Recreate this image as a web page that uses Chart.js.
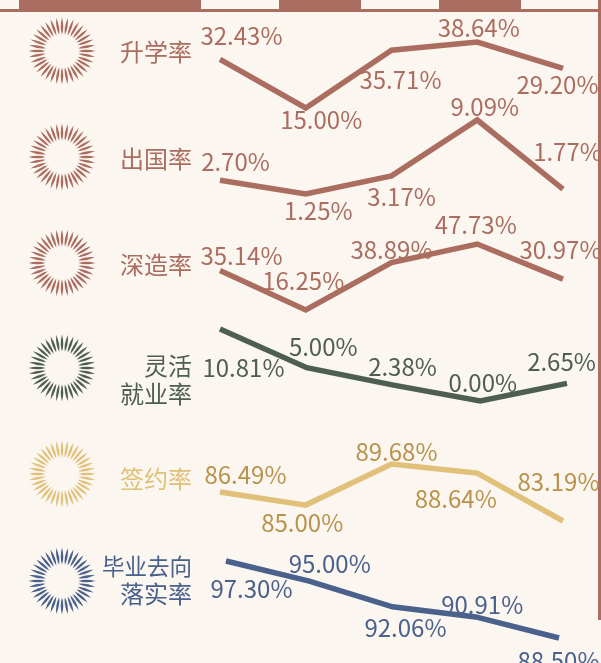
<!DOCTYPE html>
<html lang="zh">
<head>
  <meta charset="UTF-8" />
  <title>毕业去向</title>
  <script src="https://cdn.jsdelivr.net/npm/chart.js"></script>
  <style>
    html, body {
      margin: 0;
      width: 601px;
      height: 663px;
      overflow: hidden;
      background: #fbf6f0;
      font-family: "Noto Sans CJK SC", sans-serif;
    }
    canvas {
      position: absolute;
      left: 0;
      top: 0;
    }
    .frame {
      position: absolute;
      background: #ab6d60;
    }
    .name {
      position: absolute;
      right: 409px;
      font-size: 24px;
      line-height: 28px;
      text-align: right;
      white-space: nowrap;
    }
    .name span {
      font-size: 22.5px;
    }
  </style>
</head>
<body>
  <!-- bottom of the bars cut off above, and the frame line -->
  <div class="frame" style="left:19px;top:0;width:182px;height:10px"></div>
  <div class="frame" style="left:279px;top:0;width:82px;height:10px"></div>
  <div class="frame" style="left:439px;top:0;width:82px;height:10px"></div>
  <div class="frame" style="left:0;top:9px;width:601px;height:3px"></div>
  <div class="frame" style="left:598px;top:0;width:3px;height:620px"></div>

  <script>
    const xLabels = ['1', '2', '3', '4', '5'];

    const names = ['升学率', '出国率', '深造率', '灵活<br>就业率', '签约率', '<span>毕业去向</span><br>落实率'];

    const shengxue = [32.43, 15.00, 35.71, 38.64, 29.20];
    const chuguo = [2.70, 1.25, 3.17, 9.09, 1.77];
    const shenzao = [35.14, 16.25, 38.89, 47.73, 30.97];
    const linghuo = [10.81, 5.00, 2.38, 0.00, 2.65];
    const qianyue = [86.49, 85.00, 89.68, 88.64, 83.19];
    const biye = [97.30, 95.00, 92.06, 90.91, 88.50];

    const series = [shengxue, chuguo, shenzao, linghuo, qianyue, biye];

    const lineColors = ['#ab6d60', '#ab6d60', '#ab6d60', '#4e5f50', '#e1c079', '#4a618b'];
    const labelColors = ['#ab6d60', '#ab6d60', '#ab6d60', '#4e5f50', '#b9924c', '#4a618b'];

    // where each little chart sits on the page: left, right, top, bottom of the plot
    const boxes = [
      [220, 563, 42, 108],
      [220, 563, 120, 194],
      [220, 563, 244, 310],
      [220, 567, 329, 401],
      [220, 563, 464, 521],
      [226, 559, 561, 638]
    ];
    const nameTops = [37, 144, 250, 351, 464, 551];
    const burstY = [51, 157, 263, 368, 474, 581];

    // value labels are hand placed around the points in the original
    const labelOffsets = [
      [[21.5, -23], [15.5, 12], [9, 30], [1.5, -14], [-5.5, 17]],
      [[15.5, -18], [12.5, 17], [10, 21], [7.5, -13], [4.5, -37]],
      [[21.5, -15], [-2.5, -29], [0, -13], [-1.5, -19], [-2.5, -29]],
      [[23.5, 39], [16.5, -21], [9, -18], [2.5, -18], [-5.5, -21]],
      [[25.5, -17], [-3.5, 18], [5, -12], [-21.5, 26], [-4.5, -39]],
      [[25.5, 28], [20.5, -17], [13, 21], [6.5, -12], [-0.5, 23]]
    ];

    const valueLabels = {
      id: 'valueLabels',
      afterDatasetsDraw(chart, args, opts) {
        const ctx = chart.ctx;
        const points = chart.getDatasetMeta(0).data;
        ctx.save();
        ctx.font = '24px "Noto Sans CJK SC"';
        ctx.fillStyle = opts.color;
        ctx.textAlign = 'center';
        ctx.textBaseline = 'middle';
        points.forEach((p, i) => {
          const off = opts.offsets[i];
          const val = chart.data.datasets[0].data[i];
          ctx.fillText(val.toFixed(2) + '%', p.x + off[0], p.y + off[1]);
        });
        ctx.restore();
      }
    };

    // sun shaped decoration left of each row
    const burst = {
      id: 'burst',
      afterDraw(chart, args, opts) {
        const ctx = chart.ctx;
        ctx.save();
        ctx.translate(62, opts.y);
        ctx.fillStyle = opts.color;
        for (let i = 0; i < 36; i++) {
          ctx.save();
          ctx.rotate(i * Math.PI / 18);
          ctx.beginPath();
          ctx.moveTo(16.5, 0);
          ctx.quadraticCurveTo(24, -2.5, 33.5, 0);
          ctx.quadraticCurveTo(24, 2.5, 16.5, 0);
          ctx.fill();
          ctx.restore();
        }
        ctx.restore();
      }
    };

    series.forEach((values, i) => {
      const canvas = document.createElement('canvas');
      canvas.width = 601;
      canvas.height = 663;
      document.body.appendChild(canvas);

      const name = document.createElement('div');
      name.className = 'name';
      name.style.top = nameTops[i] + 'px';
      name.style.color = lineColors[i];
      name.innerHTML = names[i];
      document.body.appendChild(name);

      const box = boxes[i];

      new Chart(canvas.getContext('2d'), {
        type: 'line',
        data: {
          labels: xLabels,
          datasets: [{
            data: values,
            borderColor: lineColors[i],
            borderWidth: 5.5,
            borderJoinStyle: 'miter',
            pointRadius: 0,
            tension: 0,
            clip: false
          }]
        },
        options: {
          responsive: false,
          animation: false,
          layout: {
            padding: { left: box[0], right: 601 - box[1], top: box[2], bottom: 663 - box[3] }
          },
          scales: {
            x: { display: false, offset: false },
            y: { display: false, min: Math.min(...values), max: Math.max(...values) }
          },
          plugins: {
            legend: { display: false },
            tooltip: { enabled: false },
            valueLabels: { color: labelColors[i], offsets: labelOffsets[i] },
            burst: { color: lineColors[i], y: burstY[i] }
          }
        },
        plugins: [valueLabels, burst]
      });
    });
  </script>
</body>
</html>
